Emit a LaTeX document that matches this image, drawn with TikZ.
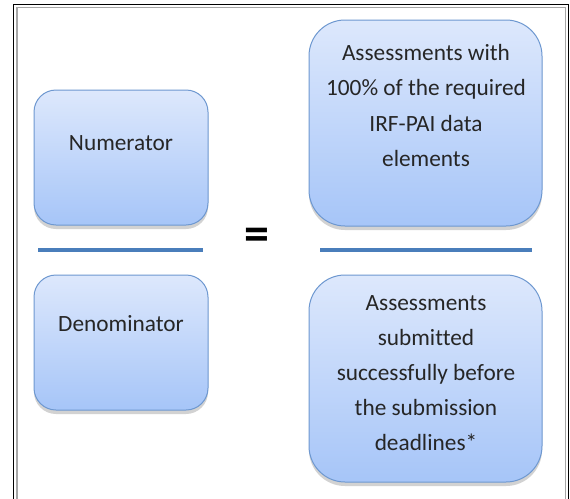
\documentclass[tikz,border=0pt]{standalone}
\usepackage{fontspec}
\setmainfont{Carlito}[Ligatures=NoCommon]
\usetikzlibrary{shadows}
\definecolor{boxtop}{HTML}{DDE8FC}
\definecolor{boxbot}{HTML}{A6C5F8}
\definecolor{boxedge}{HTML}{6E98D0}
\definecolor{barblue}{HTML}{4A7EBB}
\tikzset{
  box/.style={draw=boxedge, line width=1pt, top color=boxtop, bottom color=boxbot,
    drop shadow={shadow xshift=0pt, shadow yshift=-4pt, opacity=0.25, fill=black!70}},
  lbl/.style={anchor=base, inner sep=0pt, text=black!85,
    font=\fontsize{23.3}{35.4}\selectfont},
  bar/.style={draw=barblue, line width=4pt},
}
\begin{document}
\begin{tikzpicture}[x=1pt,y=-1pt]
\useasboundingbox (0,0) rectangle (570,498);
\clip (0,0) rectangle (570,498);
\fill[white] (0,0) rectangle (570,498);
% frame
\draw[black, line width=1.6pt] (13.5,520) -- (13.5,4.5) -- (568.5,4.5) -- (568.5,520);
\draw[black!35, line width=1.4pt] (16.8,520) -- (16.8,7.6) -- (565.2,7.6) -- (565.2,520);
% boxes
\path[box, rounded corners=22pt] (34,90) rectangle (208,225);
\node[lbl] (num) at (121,150) {Numerator};
\path[box, rounded corners=22pt] (34,275) rectangle (208,410);
\node[lbl] (den) at (121,331.5) {Denominator};
\path[box, rounded corners=36pt] (309,20) rectangle (542,226);
\node[lbl] (a1) at (426,60) {Assessments with};
\node[lbl] (a2) at (426,95.5) {100\% of the required};
\node[lbl] (a3) at (426,131) {IRF-PAI data};
\node[lbl] (a4) at (426,166.5) {elements};
\path[box, rounded corners=36pt] (309,275) rectangle (542,482);
\node[lbl] (b1) at (426,310.5) {Assessments};
\node[lbl] (b2) at (426,345.5) {submitted};
\node[lbl] (b3) at (426,380.5) {successfully before};
\node[lbl] (b4) at (426,415.5) {the submission};
\node[lbl] (b5) at (426,450.5) {deadlines*};
% fraction bars
\coordinate (l1) at (38,250); \coordinate (l2) at (203,250);
\coordinate (r1) at (320,250); \coordinate (r2) at (532,250);
\draw[bar] (l1) -- (l2);
\draw[bar] (r1) -- (r2);
% equals
\node[inner sep=0pt, font=\fontsize{50}{50}\bfseries\selectfont] (eq) at (257,239) {=};
\end{tikzpicture}
\end{document}
